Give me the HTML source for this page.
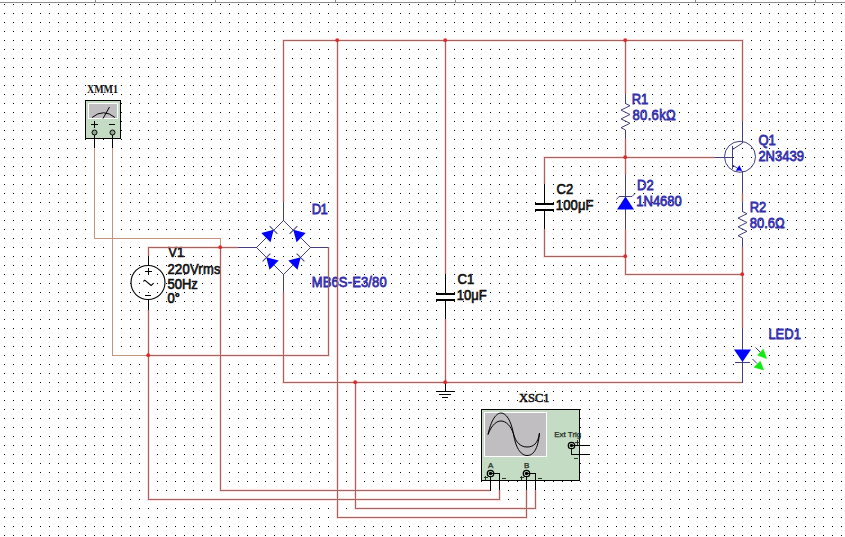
<!DOCTYPE html>
<html><head><meta charset="utf-8">
<style>
html,body{margin:0;padding:0;background:#fff;width:845px;height:537px;overflow:hidden}
svg{display:block}
text{font-family:"Liberation Sans",sans-serif}
.w{stroke:#a26662;stroke-width:1;fill:none}
.s{stroke:#c4937f;stroke-width:1;fill:none}
.b{stroke:#443e80;stroke-width:1;fill:none}
.k{stroke:#000;stroke-width:1;fill:none}
.lb{fill:#3430ac;stroke:#3430ac;stroke-width:0.7px;font-size:13px}
.lk{fill:#111;stroke:#111;stroke-width:0.6px;font-size:13px}
.jd{fill:#dc2a2a}
</style></head>
<body>
<svg width="845" height="537" viewBox="0 0 845 537">
<defs>
<pattern id="grid" x="4" y="4" width="9" height="9" patternUnits="userSpaceOnUse">
<rect x="0" y="0" width="1" height="1" fill="#000"/>
</pattern>
</defs>
<rect x="0" y="0" width="845" height="537" fill="#fff"/>
<rect x="0" y="3" width="845" height="534" fill="url(#grid)"/>
<!-- top ruler -->
<g shape-rendering="crispEdges">
<rect x="0" y="2" width="845" height="1" fill="#8a8a8a"/>
<rect x="95" y="0" width="1" height="3" fill="#8a8a8a"/>
<rect x="215" y="0" width="1" height="3" fill="#8a8a8a"/>
<rect x="335" y="0" width="1" height="3" fill="#8a8a8a"/>
<rect x="455" y="0" width="1" height="3" fill="#8a8a8a"/>
<rect x="575" y="0" width="1" height="3" fill="#8a8a8a"/>
<rect x="695" y="0" width="1" height="3" fill="#8a8a8a"/>
<rect x="815" y="0" width="1" height="3" fill="#8a8a8a"/>
</g>

<!-- halo -->
<g fill="none" stroke="#fbe0e0" stroke-width="3"><path d="M148.5 256V247.5H238"/><path d="M220.5 247V490.5H490"/><path d="M148.5 310V499.5H499.5V490"/><path d="M148 355.5H328.5V247"/><path d="M283.5 202V40.5H742.5V121"/><path d="M337.5 40V517.5H526.5V490"/><path d="M283.5 292V382.5H742"/><path d="M355.5 382V508.5H535.5V490"/><path d="M445.5 40V274"/><path d="M445.5 319V382"/><path d="M625.5 40V94"/><path d="M625.5 139V175"/><path d="M544.5 184V157.5H715"/><path d="M544.5 229V256.5H625.5V274.5H742.5V328"/><path d="M625.5 229V256"/><path d="M742.5 193V202"/><path d="M742.5 247V274"/></g>
<!-- XMM1 -->
<text x="87" y="92.5" style="font-family:'Liberation Serif',serif;font-size:12px;font-weight:bold" fill="#111" textLength="31" lengthAdjust="spacingAndGlyphs">XMM1</text>
<g shape-rendering="crispEdges">
<rect x="85.5" y="100.5" width="35" height="38" fill="#c3dcc3" stroke="#000"/>
<rect x="88" y="103" width="30" height="16" fill="#fff"/>
<rect x="89" y="104" width="28" height="14" fill="#c0bec0"/>
<path class="k" d="M94.5 134V148M112.5 134V148"/>
<path class="k" d="M91 124.5H98M94.5 121V128M109 124.5H115"/>
</g>
<path d="M92 117.5Q103.5 108 115 117.5" fill="none" stroke="#000" stroke-width="1"/>
<path d="M103 118.5L109.5 107" fill="none" stroke="#000" stroke-width="1"/>
<circle cx="94.5" cy="132.5" r="2.5" fill="#90a890" stroke="#000" stroke-width="1"/>
<circle cx="112.5" cy="132.5" r="2.5" fill="#90a890" stroke="#000" stroke-width="1"/>

<!-- V1 -->
<g shape-rendering="crispEdges">
<path class="k" d="M148.5 256V266M148.5 299V310"/>
<path class="k" d="M145 271.5H152M148.5 268V275M145 295.5H151"/>
</g>
<circle cx="148" cy="282.5" r="17" fill="none" stroke="#000" stroke-width="1.1"/>
<path d="M143.3 281.4L144.8 280.2L151.1 285.5L153.7 283.2" fill="none" stroke="#000" stroke-width="1.1"/>
<text class="lk" transform="translate(168.3 256.6) scale(1 1.08)">V1</text>
<text class="lk" transform="translate(167.5 274.0) scale(1 1.08)" letter-spacing="0.25">220Vrms</text>
<text class="lk" transform="translate(167.5 288.8) scale(1 1.08)">50Hz</text>
<text class="lk" transform="translate(167.5 303.4) scale(1 1.08)">0°</text>

<!-- D1 bridge -->
<g shape-rendering="crispEdges">
<path class="b" d="M283.5 202V220M283.5 274V292M238 247.5H256M310 247.5H328.5"/>
</g>
<path class="b" d="M256.5 247.5L283.5 220.5L310.5 247.5L283.5 274.5Z"/>
<g fill="#0000ff" stroke="#443e80" stroke-width="1">
<g transform="translate(270 233.5) rotate(-45)"><path d="M5.2 0L-5.8 -6.5L-5.8 6.5Z" stroke="none"/><path d="M5 -5.5V5.5" fill="none"/></g>
<g transform="translate(297 233.5) rotate(-135)"><path d="M5.2 0L-5.8 -6.5L-5.8 6.5Z" stroke="none"/><path d="M5 -5.5V5.5" fill="none"/></g>
<g transform="translate(270 261) rotate(-135)"><path d="M5.2 0L-5.8 -6.5L-5.8 6.5Z" stroke="none"/><path d="M5 -5.5V5.5" fill="none"/></g>
<g transform="translate(297 261) rotate(-45)"><path d="M5.2 0L-5.8 -6.5L-5.8 6.5Z" stroke="none"/><path d="M5 -5.5V5.5" fill="none"/></g>
</g>
<text class="lb" transform="translate(311.8 214.0) scale(1 1.08)" letter-spacing="-0.8">D1</text>
<text class="lb" transform="translate(311.7 287.4) scale(1 1.08)" letter-spacing="0.15">MB6S-E3/80</text>

<!-- C1 -->
<g shape-rendering="crispEdges">
<path class="k" d="M445.5 274V293M445.5 301V319"/>
<rect x="436" y="293" width="19" height="2" fill="#000"/>
<rect x="436" y="299" width="19" height="2" fill="#000"/>
<path class="k" d="M445.5 382V391M436 391.5H455M439 394.5H451M442 397.5H448"/>
</g>
<text class="lk" transform="translate(457.5 284.1) scale(1 1.08)">C1</text>
<text class="lk" transform="translate(456.7 299.7) scale(1 1.08)">10μF</text>

<!-- C2 -->
<g shape-rendering="crispEdges">
<path class="k" d="M544.5 184V203M544.5 211V229"/>
<rect x="535" y="203" width="19" height="2" fill="#000"/>
<rect x="535" y="209" width="19" height="2" fill="#000"/>
</g>
<text class="lk" transform="translate(556.5 193.9) scale(1 1.08)">C2</text>
<text class="lk" transform="translate(555.8 209.9) scale(1 1.08)" letter-spacing="0.15">100μF</text>

<!-- R1 -->
<g shape-rendering="crispEdges"><path class="b" d="M625.5 94V103.5M625.5 130V139"/></g>
<path class="b" d="M625.5 103.5L630 105.7L621 110.1L630 114.5L621 118.9L630 123.3L621 127.7L625.5 130"/>
<text class="lb" transform="translate(631.7 104.2) scale(1 1.08)">R1</text>
<text class="lb" transform="translate(632.5 120.2) scale(1 1.08)" letter-spacing="0.35">80.6kΩ</text>

<!-- D2 zener -->
<g shape-rendering="crispEdges"><path class="b" d="M625.5 175V196M625.5 209V229"/></g>
<path d="M625.5 196.5L634 209.5L617 209.5Z" fill="#0000ff"/>
<path class="b" d="M616.5 199.5L619 196.5H632L635 193.5"/>
<text class="lb" transform="translate(637.0 189.8) scale(1 1.08)">D2</text>
<text class="lb" transform="translate(636.3 205.7) scale(1 1.08)">1N4680</text>

<!-- Q1 -->
<g shape-rendering="crispEdges">
<path class="b" d="M715 157.5H732.5M732.5 146V168.5M742.5 121V143M742.5 171V193"/>
</g>
<circle cx="740" cy="156.8" r="15.5" fill="none" stroke="#443e80" stroke-width="1"/>
<path class="b" d="M732.5 149.5L742.5 143M732.5 165L742.5 171.5"/>
<path d="M742 170.5L735.8 170.8L739.3 165.2Z" fill="#0000ff"/>
<text class="lb" transform="translate(758.4 144.8) scale(1 1.08)">Q1</text>
<text class="lb" transform="translate(758.4 160.8) scale(1 1.08)">2N3439</text>

<!-- R2 -->
<g shape-rendering="crispEdges"><path class="b" d="M742.5 202V211.5M742.5 238V247"/></g>
<path class="b" d="M742.5 211.5L747 213.7L738 218.1L747 222.5L738 226.9L747 231.3L738 235.7L742.5 238"/>
<text class="lb" transform="translate(749.7 212.4) scale(1 1.08)">R2</text>
<text class="lb" transform="translate(749.7 228.0) scale(1 1.08)">80.6Ω</text>

<!-- LED1 -->
<g shape-rendering="crispEdges"><path class="b" d="M742.5 328V382.5M735 362.5H750"/></g>
<path d="M734 349.5L751 349.5L742.5 362Z" fill="#0000ff"/>
<g>
<path d="M755.5 347.5L760.5 352.5M752.5 359L757 363.5" fill="none" stroke="#3a3a88" stroke-width="1"/>
<path d="M766.6 358.6L763.2 349.3L757.6 355.2Z" fill="#12e812" stroke="#12e812" stroke-width="0.6"/>
<path d="M763.6 369.9L760.3 361.3L754.1 367.3Z" fill="#12e812" stroke="#12e812" stroke-width="0.6"/>
</g>
<text class="lb" transform="translate(768.4 338.7) scale(1 1.08)">LED1</text>

<!-- XSC1 -->
<text x="519" y="401.5" style="font-family:'Liberation Serif',serif;font-size:12px" fill="#111" stroke="#111" stroke-width="0.5" textLength="30.5" lengthAdjust="spacingAndGlyphs">XSC1</text>
<g shape-rendering="crispEdges">
<rect x="481.5" y="409.5" width="98" height="71" fill="#c3dcc3" stroke="#000"/>
<rect x="484" y="412" width="63" height="45" fill="#fff"/>
<rect x="485" y="413" width="61" height="43" fill="#c0bec0"/>
<path class="k" d="M490.5 476V490M499.5 473.5V490M490.5 473.5H499.5"/>
<path class="k" d="M526.5 476V490M535.5 473.5V490M526.5 473.5H535.5"/>
<path class="k" d="M571.5 445.5H589M571.5 448V454.5H589"/>
</g>
<path d="M488 434.5C492 416 498 413 501 413C506 413 511 420 513.5 434C516 450 522 455.5 527 455.5C533 455.5 538 450 539.5 433" fill="none" stroke="#000" stroke-width="1"/>
<path d="M488 434.5C492 424 497 421 501 421C506 421 511 426 513.5 434C516 443 521 447 527 447C533 447 538 444 539.5 433" fill="none" stroke="#000" stroke-width="1"/>
<circle cx="490.5" cy="473.5" r="3.2" fill="none" stroke="#000" stroke-width="1.3"/>
<circle cx="490.5" cy="473.5" r="1.7" fill="#000"/>
<circle cx="526.5" cy="473.5" r="3.2" fill="none" stroke="#000" stroke-width="1.3"/>
<circle cx="526.5" cy="473.5" r="1.7" fill="#000"/>
<circle cx="571.5" cy="445.5" r="3.2" fill="none" stroke="#000" stroke-width="1.3"/>
<circle cx="571.5" cy="445.5" r="1.7" fill="#000"/>
<g style="font-size:8px" fill="#1c261c" stroke="#1c261c" stroke-width="0.25">
<text x="488" y="467.5">A</text>
<text x="524" y="467.5">B</text>
<text x="554.2" y="437">Ext Trig</text>
</g>
<g shape-rendering="crispEdges" stroke="#2a342a" stroke-width="1" fill="none">
<path d="M484 477.5H488M485.5 475.5V479.5M501.5 478.5H505.5"/>
<path d="M520 477.5H524M521.5 475.5V479.5M537.5 478.5H541.5"/>
<path d="M575 442.5H580M577.5 440V445M574 458.5H578"/>
</g>

<!-- wires -->
<g shape-rendering="crispEdges">
<path class="s" d="M94.5 148V238.5H220.5V247"/>
<path class="s" d="M112.5 148V355.5H148"/>
<path class="w" d="M148.5 256V247.5H238"/>
<path class="w" d="M220.5 247V490.5H490"/>
<path class="w" d="M148.5 310V499.5H499.5V490"/>
<path class="w" d="M148 355.5H328.5V247"/>
<path class="w" d="M283.5 202V40.5H742.5V121"/>
<path class="w" d="M337.5 40V517.5H526.5V490"/>
<path class="w" d="M283.5 292V382.5H742"/>
<path class="w" d="M355.5 382V508.5H535.5V490"/>
<path class="w" d="M445.5 40V274"/>
<path class="w" d="M445.5 319V382"/>
<path class="w" d="M625.5 40V94"/>
<path class="w" d="M625.5 139V175"/>
<path class="w" d="M544.5 184V157.5H715"/>
<path class="w" d="M544.5 229V256.5H625.5V274.5H742.5V328"/>
<path class="w" d="M625.5 229V256"/>
<path class="w" d="M742.5 193V202"/>
<path class="w" d="M742.5 247V274"/>
</g>

<!-- junction dots -->
<g class="jd">
<circle cx="337.2" cy="40.2" r="1.9"/>
<circle cx="445.2" cy="40.2" r="1.9"/>
<circle cx="625.2" cy="40.2" r="1.9"/>
<circle cx="220.2" cy="247.2" r="1.9"/>
<circle cx="148.2" cy="355.2" r="1.9"/>
<circle cx="355.2" cy="382.2" r="1.9"/>
<circle cx="445.2" cy="382.2" r="1.9"/>
<circle cx="625.2" cy="157.2" r="1.9"/>
<circle cx="625.2" cy="256.2" r="1.9"/>
<circle cx="742.2" cy="274.2" r="1.9"/>
</g>

</svg>
</body></html>
